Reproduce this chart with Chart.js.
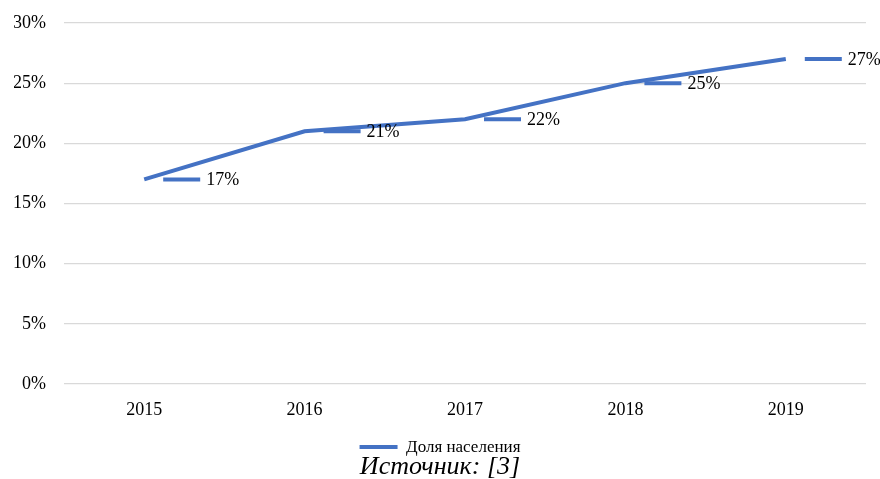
<!DOCTYPE html>
<html>
<head>
<meta charset="utf-8">
<script src="https://cdn.jsdelivr.net/npm/chart.js@4.4.1/dist/chart.umd.min.js"></script>
<style>
  html, body { margin: 0; padding: 0; background: #fff; }
  #wrap { width: 880px; height: 479px; }
</style>
</head>
<body>
<div id="wrap"><canvas id="myChart"></canvas></div>
<script>
var years = ["2015", "2016", "2017", "2018", "2019"];
var shares = [17, 21, 22, 25, 27];
var yTicks = [0, 5, 10, 15, 20, 25, 30];
var seriesName = "Доля населения";
var sourceText = "Источник: [3]";
var lineColor = "#4472c4";
var serif = "'Liberation Serif', 'Times New Roman', serif";

// leader dash + value label to the right of every point
var leaderLabels = {
    id: "leaderLabels",
    afterDatasetsDraw: function (chart) {
        var ctx = chart.ctx;
        var meta = chart.getDatasetMeta(0);
        ctx.save();
        ctx.strokeStyle = lineColor;
        ctx.lineWidth = 4;
        ctx.lineCap = "butt";
        ctx.fillStyle = "#000";
        ctx.font = "18px " + serif;
        ctx.textBaseline = "middle";
        meta.data.forEach(function (pt, i) {
            ctx.beginPath();
            ctx.moveTo(pt.x + 19, pt.y);
            ctx.lineTo(pt.x + 56, pt.y);
            ctx.stroke();
            ctx.fillText(shares[i] + "%", pt.x + 62, pt.y + 1);
        });
        ctx.restore();
    }
};

new Chart("myChart", {
    type: "line",
    data: {
        labels: years,
        datasets: [{
            label: seriesName,
            data: shares,
            borderColor: lineColor,
            backgroundColor: lineColor,
            borderWidth: 4,
            pointRadius: 0,
            tension: 0
        }]
    },
    options: {
        responsive: true,
        maintainAspectRatio: false,
        animation: false,
        layout: { padding: { left: 14, right: 14, top: 23, bottom: 0 } },
        scales: {
            x: {
                offset: true,
                grid: { display: false },
                border: { display: false },
                ticks: { color: "#000", font: { family: serif, size: 18 }, padding: 7 },
                afterFit: function (scale) { scale.height = 54.6; }
            },
            y: {
                min: 0,
                max: 30,
                afterBuildTicks: function (axis) {
                    axis.ticks = yTicks.map(function (v) { return { value: v }; });
                },
                afterFit: function (scale) {
                    scale.width = 50;
                    scale.paddingTop = 0;
                    scale.paddingBottom = 0;
                },
                grid: { color: "#d9d9d9", lineWidth: 1.3, drawTicks: false },
                border: { display: false },
                ticks: {
                    color: "#000",
                    padding: 18,
                    font: { family: serif, size: 18 },
                    callback: function (v) { return v + "%"; }
                }
            }
        },
        plugins: {
            legend: {
                position: "bottom",
                labels: {
                    boxWidth: 38,
                    boxHeight: 0,
                    color: "#000",
                    padding: 0,
                    font: { family: serif, size: 17 }
                }
            },
            title: {
                display: true,
                position: "bottom",
                text: sourceText,
                color: "#000",
                padding: { top: -10, bottom: 0 },
                font: { family: serif, size: 26, style: "italic", weight: "normal", lineHeight: 0.9 }
            },
            tooltip: { enabled: false }
        }
    },
    plugins: [leaderLabels]
});
</script>
</body>
</html>
